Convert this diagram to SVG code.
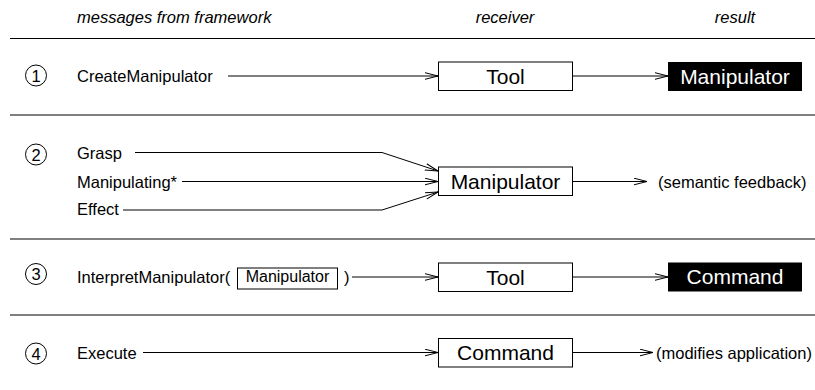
<svg xmlns="http://www.w3.org/2000/svg" width="815" height="390" viewBox="0 0 815 390">
  <style>
    text { font-family: "Liberation Sans", Arial, sans-serif; fill: #000; }
    .hdr { font-size: 16.5px; font-style: italic; }
    .lbl { font-size: 16.5px; }
    .num { font-size: 16.5px; text-anchor: middle; }
    .big { font-size: 21px; text-anchor: middle; }
    .inv { font-size: 21px; text-anchor: middle; fill: #fff; }
    .box { fill: #fff; stroke: #000; stroke-width: 1; }
    .blk { fill: #000; stroke: none; }
    .sep { stroke: #000; stroke-width: 1; }
    .ring { fill: none; stroke: #000; stroke-width: 1; }
    .wire { fill: none; stroke: #000; stroke-width: 1; marker-end: url(#head); }
  </style>
  <defs>
    <marker id="head" markerUnits="userSpaceOnUse" viewBox="0 0 14 8" markerWidth="14" markerHeight="8" refX="13" refY="4" orient="auto">
      <path d="M0,0.7 L13,4 L0,7.3" fill="none" stroke="#000" stroke-width="1"/>
    </marker>
  </defs>
  <rect width="815" height="390" fill="#fff"/>

  <!-- column headings -->
  <g id="headings">
    <text class="hdr" x="77" y="22.5">messages from framework</text>
    <text class="hdr" x="505" y="22.5" text-anchor="middle">receiver</text>
    <text class="hdr" x="735" y="22.5" text-anchor="middle">result</text>
  </g>

  <!-- row separators -->
  <g id="separators">
    <line class="sep" x1="10" y1="38.5" x2="815" y2="38.5"/>
    <line class="sep" x1="10" y1="115" x2="815" y2="115"/>
    <line class="sep" x1="10" y1="239" x2="815" y2="239"/>
    <line class="sep" x1="10" y1="315" x2="815" y2="315"/>
  </g>

  <!-- step numbers -->
  <g id="step1"><circle class="ring" cx="36" cy="75.5" r="10.5"/><text class="num" x="36" y="81.5">1</text></g>
  <g id="step2"><circle class="ring" cx="36" cy="154.5" r="10.5"/><text class="num" x="36" y="160.5">2</text></g>
  <g id="step3"><circle class="ring" cx="36" cy="274" r="10.5"/><text class="num" x="36" y="280">3</text></g>
  <g id="step4"><circle class="ring" cx="36" cy="353.5" r="10.5"/><text class="num" x="36" y="359.5">4</text></g>

  <!-- messages -->
  <g id="msg-create"><text class="lbl" x="77" y="81.5">CreateManipulator</text></g>
  <g id="msg-grasp"><text class="lbl" x="77" y="158.5">Grasp</text></g>
  <g id="msg-manipulating"><text class="lbl" x="77" y="187.5">Manipulating*</text></g>
  <g id="msg-effect"><text class="lbl" x="77" y="215">Effect</text></g>
  <g id="msg-interpret">
    <text class="lbl" x="77" y="282.5">InterpretManipulator(</text>
    <rect class="box" x="237.5" y="268" width="100" height="21"/>
    <text class="lbl" x="287.5" y="282" text-anchor="middle" style="font-size:16px">Manipulator</text>
    <text class="lbl" x="344" y="282.5">)</text>
  </g>
  <g id="msg-execute"><text class="lbl" x="77" y="359">Execute</text></g>

  <!-- receivers -->
  <g id="tool1"><rect class="box" x="438.5" y="62" width="134" height="28.5"/><text class="big" x="505.5" y="83.5">Tool</text></g>
  <g id="manipulator"><rect class="box" x="438.5" y="167" width="134" height="28.5"/><text class="big" x="505.5" y="188.5">Manipulator</text></g>
  <g id="tool3"><rect class="box" x="438.5" y="263" width="134" height="28.5"/><text class="big" x="505.5" y="284.5">Tool</text></g>
  <g id="command-recv"><rect class="box" x="438.5" y="338.5" width="134" height="28.5"/><text class="big" x="505.5" y="360">Command</text></g>

  <!-- results -->
  <g id="result-manipulator"><rect class="blk" x="668" y="62" width="134" height="29"/><text class="inv" x="735" y="83.5">Manipulator</text></g>
  <g id="result-feedback"><text class="lbl" x="658" y="188">(semantic feedback)</text></g>
  <g id="result-command"><rect class="blk" x="668" y="262.5" width="134" height="29"/><text class="inv" x="735" y="284">Command</text></g>
  <g id="result-modifies"><text class="lbl" x="656" y="359">(modifies application)</text></g>

  <!-- connectors -->
  <g id="connectors">
    <path class="wire" d="M228,76 H438"/>
    <path class="wire" d="M572.5,76 H668"/>
    <path class="wire" d="M135,152.5 H382 L438,171"/>
    <path class="wire" d="M182,181.5 H438"/>
    <path class="wire" d="M123,210 H382 L438,192"/>
    <path class="wire" d="M572.5,181.5 H647"/>
    <path class="wire" d="M352,277 H438"/>
    <path class="wire" d="M572.5,277 H668"/>
    <path class="wire" d="M143,352.5 H438"/>
    <path class="wire" d="M572.5,352.5 H653"/>
  </g>
</svg>
